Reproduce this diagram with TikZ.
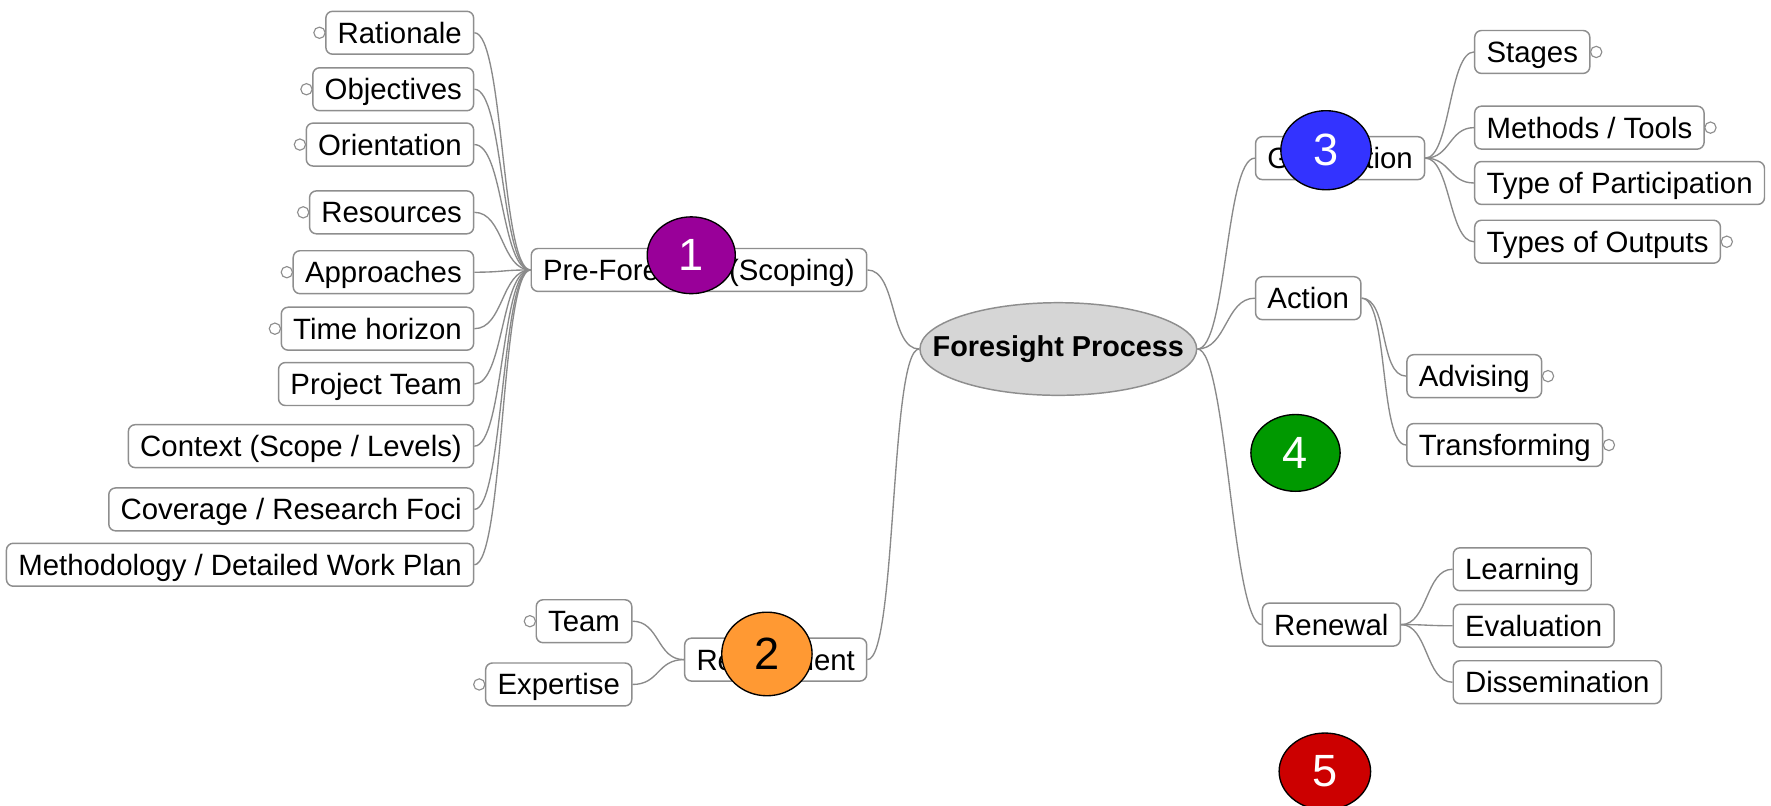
\documentclass[tikz,border=0pt]{standalone}
\usepackage{fontspec}
\setmainfont{Liberation Sans}
\usetikzlibrary{shapes.geometric}

\definecolor{boxgray}{HTML}{8E8E8E}
\definecolor{linkgray}{HTML}{8A8A8A}
\definecolor{hubfill}{HTML}{D6D6D6}
\definecolor{cpurple}{HTML}{990099}
\definecolor{corange}{HTML}{FF9933}
\definecolor{cblue}{HTML}{3333FF}
\definecolor{cgreen}{HTML}{009900}
\definecolor{cred}{HTML}{CC0000}

\begin{document}
\begin{tikzpicture}[x=1pt,y=-1pt,
  topic/.style={draw=boxgray, line width=1.3pt, rounded corners=6pt, fill=white,
    minimum height=38pt, inner xsep=10.5pt, inner ysep=0pt,
    text height=18.5pt, text depth=0pt,
    font=\fontsize{26}{30}\selectfont, text=black},
  hub/.style={ellipse, draw=boxgray, line width=1.3pt, fill=hubfill,
    minimum width=245pt, minimum height=82pt, inner sep=0pt},
  hubtext/.style={font=\bfseries\fontsize{25.5}{30}\selectfont, inner sep=0pt},
  marker/.style={circle, draw=boxgray, line width=1pt, fill=white,
    minimum size=10pt, inner sep=0pt},
  link/.style={draw=linkgray, line width=1.2pt},
  badge/.style={ellipse, draw=black, line width=1.2pt, inner sep=0pt,
    font=\fontsize{40}{40}\selectfont, text=white}]
\useasboundingbox (0,0) rectangle (1568,713);

% central topic
\node[hub] (fp) at (937,309) {};
\node[hubtext] (fpt) at (fp.center) {Foresight Process};

% left main branches
\node[topic, anchor=east] (pf)  at (768,239) {Pre-Foresight (Scoping)};
\node[topic, anchor=east] (rec) at (768,584) {Recruitment};

% pre-foresight subtopics
\node[topic, anchor=east] (rat) at (420,29)  {Rationale};
\node[topic, anchor=east] (obj) at (420,79)  {Objectives};
\node[topic, anchor=east] (ori) at (420,128) {Orientation};
\node[topic, anchor=east] (res) at (420,188) {Resources};
\node[topic, anchor=east] (app) at (420,241) {Approaches};
\node[topic, anchor=east] (tim) at (420,291) {Time horizon};
\node[topic, anchor=east] (prt) at (420,340) {Project Team};
\node[topic, anchor=east] (ctx) at (420,395) {Context (Scope / Levels)};
\node[topic, anchor=east] (cov) at (420,451) {Coverage / Research Foci};
\node[topic, anchor=east] (met) at (420,500) {Methodology / Detailed Work Plan};

% recruitment subtopics
\node[topic, anchor=east] (tea) at (560,550) {Team};
\node[topic, anchor=east] (exp) at (560,606) {Expertise};

% right main branches
\node[topic, anchor=west] (gen) at (1111,140) {Generation};
\node[topic, anchor=west] (act) at (1111,264) {Action};
\node[topic, anchor=west] (ren) at (1117,553) {Renewal};

% generation subtopics
\node[topic, anchor=west] (stg) at (1305,46)  {Stages};
\node[topic, anchor=west] (mth) at (1305,113) {Methods / Tools};
\node[topic, anchor=west] (typ) at (1305,162) {Type of Participation};
\node[topic, anchor=west] (out) at (1305,214) {Types of Outputs};

% action subtopics
\node[topic, anchor=west] (adv) at (1245,333) {Advising};
\node[topic, anchor=west] (trf) at (1245,394) {Transforming};

% renewal subtopics
\node[topic, anchor=west] (lea) at (1286,504) {Learning};
\node[topic, anchor=west] (eva) at (1286,554) {Evaluation};
\node[topic, anchor=west] (dis) at (1286,604) {Dissemination};

% connectors
\foreach \c in {pf,rec}
  \draw[link] (fp.west) .. controls +(-26,0) and +(26,0) .. (\c.east);
\foreach \c in {gen,act,ren}
  \draw[link] (fp.east) .. controls +(26,0) and +(-26,0) .. (\c.west);
\foreach \c in {rat,obj,ori,res,app,tim,prt,ctx,cov,met}
  \draw[link] (pf.west) .. controls +(-26,0) and +(26,0) .. (\c.east);
\foreach \c in {tea,exp}
  \draw[link] (rec.west) .. controls +(-24,0) and +(24,0) .. (\c.east);
\foreach \c in {stg,mth,typ,out}
  \draw[link] (gen.east) .. controls +(22,0) and +(-22,0) .. (\c.west);
\foreach \c in {adv,trf}
  \draw[link] (act.east) .. controls +(24,0) and +(-24,0) .. (\c.west);
\foreach \c in {lea,eva,dis}
  \draw[link] (ren.east) .. controls +(24,0) and +(-24,0) .. (\c.west);

% collapse markers
\foreach \c in {rat,obj,ori,res,app,tim,tea,exp}
  \node[marker] at ([xshift=-5pt]\c.west) {};
\foreach \c in {stg,mth,out,adv,trf}
  \node[marker] at ([xshift=5pt]\c.east) {};

% numbered phase badges
\node[badge, fill=cpurple, minimum width=78pt, minimum height=68pt] (b1) at (612,226) {1};
\node[badge, fill=corange, minimum width=80pt, minimum height=74pt, text=black] (b2) at (679,579) {2};
\node[badge, fill=cblue, minimum width=80pt, minimum height=70pt] (b3) at (1174,133) {3};
\node[badge, fill=cgreen, minimum width=79pt, minimum height=68pt] (b4) at (1147,401) {4};
\node[badge, fill=cred, minimum width=81pt, minimum height=68pt] (b5) at (1173,683) {5};
\end{tikzpicture}
\end{document}
